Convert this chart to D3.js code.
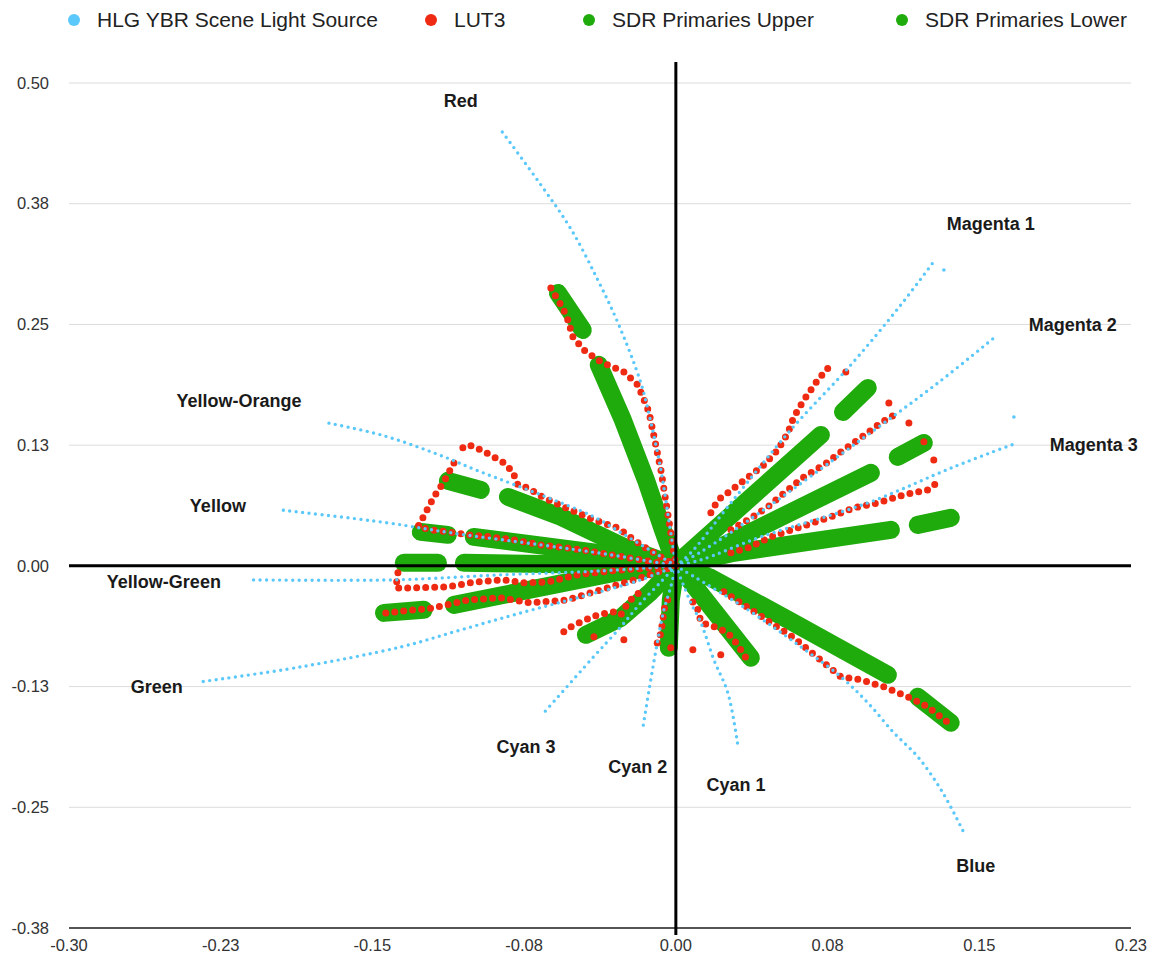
<!DOCTYPE html>
<html>
<head>
<meta charset="utf-8">
<script src="https://cdn.jsdelivr.net/npm/d3@7"></script>
<style>
  body { margin: 0; background: #fff; }
  svg text { font-family: "Liberation Sans", Arial, Helvetica, sans-serif; }
</style>
</head>
<body>
<svg id="chart" width="1151" height="954"></svg>
<script>
// legend / series names
const seriesNames = ["HLG YBR Scene Light Source", "LUT3", "SDR Primaries Upper", "SDR Primaries Lower"];
const seriesColors = ["#5ac8fa", "#ee2a12", "#1fab0b", "#1fab0b"];

// axis ticks
const xTicks = [-0.3, -0.225, -0.15, -0.075, 0, 0.075, 0.15, 0.225];
const xTickLabels = ["-0.30", "-0.23", "-0.15", "-0.08", "0.00", "0.08", "0.15", "0.23"];
const yTicks = [-0.375, -0.25, -0.125, 0, 0.125, 0.25, 0.375, 0.5];
const yTickLabels = ["-0.38", "-0.25", "-0.13", "0.00", "0.13", "0.25", "0.38", "0.50"];

// HLG YBR scene light source, one curve per hue (x = Cb, y = Cr)
const hlgRed = [[0,0],[-0.0035,0.0476],[-0.0074,0.0994],[-0.0124,0.1491],[-0.0173,0.1894],[-0.0282,0.2495],[-0.0385,0.2957],[-0.0519,0.3489],[-0.0667,0.3944],[-0.0865,0.4513]];
const hlgMagenta1 = [[0,0],[0.0074,0.0135],[0.0272,0.0652],[0.0568,0.1408],[0.0865,0.2081],[0.1112,0.2702],[0.1270,0.3137]];
const hlgMagenta2 = [[0,0],[0.0124,0.0145],[0.0420,0.0559],[0.0914,0.1304],[0.1295,0.1894],[0.1572,0.2360]];
const hlgMagenta3 = [[0,0],[0.0124,0.0062],[0.0420,0.0300],[0.0949,0.0652],[0.1374,0.1025],[0.1686,0.1273]];
const hlgYellowOrange = [[0,0],[-0.0237,0.0300],[-0.0405,0.0507],[-0.0667,0.0735],[-0.0964,0.0973],[-0.1196,0.1170],[-0.1458,0.1356],[-0.1720,0.1480]];
const hlgYellow = [[0,0],[-0.0321,0.0114],[-0.0667,0.0217],[-0.1112,0.0342],[-0.1424,0.0445],[-0.1957,0.0580]];
const hlgYellowGreen = [[0,0],[-0.0371,-0.0052],[-0.0865,-0.0093],[-0.1394,-0.0145],[-0.2116,-0.0145]];
const hlgGreen = [[0,0],[-0.0173,-0.0145],[-0.0470,-0.0321],[-0.0766,-0.0487],[-0.1063,-0.0663],[-0.1359,-0.0839],[-0.1854,-0.1046],[-0.2348,-0.1201]];
const hlgCyan3 = [[0,0],[-0.0074,-0.0166],[-0.0173,-0.0383],[-0.0272,-0.0631],[-0.0420,-0.0973],[-0.0657,-0.1532]];
const hlgCyan2 = [[0,0],[-0.0025,-0.0217],[-0.0059,-0.0455],[-0.0089,-0.0766],[-0.0124,-0.1180],[-0.0163,-0.1677]];
const hlgCyan1 = [[0,0],[0.0074,-0.0383],[0.0124,-0.0590],[0.0188,-0.0973],[0.0257,-0.1315],[0.0306,-0.1853]];
const hlgBlue = [[0,0],[0.0356,-0.0455],[0.0618,-0.0839],[0.0816,-0.1149],[0.0949,-0.1418],[0.1078,-0.1729],[0.1196,-0.1977],[0.1320,-0.2350],[0.1424,-0.2764]];
const hlgSingles = [[0.1325,0.3064],[0.1671,0.1542]];

// LUT3 output per hue
const lutRed = [[-0.0618,0.2878],[-0.0583,0.2754],[-0.0559,0.2671],[-0.0534,0.2547],[-0.0509,0.2371],[-0.0455,0.2236],[-0.0371,0.2112],[-0.0257,0.2008],[-0.0188,0.1874],[-0.0133,0.1594],[-0.0074,0.0994],[-0.0035,0.0476],[0,0]];
const lutMagenta1 = [[0.0173,0.0549],[0.0208,0.0683],[0.0257,0.0756],[0.0321,0.0859],[0.0386,0.0963],[0.0435,0.1046],[0.0504,0.1201],[0.0554,0.1377],[0.0583,0.1542],[0.0633,0.1718],[0.0702,0.1925],[0.0766,0.2081]];
const lutMagenta2 = [[0.0272,0.0373],[0.0356,0.0476],[0.0455,0.0611],[0.0554,0.0787],[0.0633,0.0921],[0.0732,0.1046],[0.0816,0.1180],[0.0914,0.1325],[0.1013,0.1480],[0.1097,0.1584]];
const lutMagenta3 = [[0.0272,0.0135],[0.0356,0.0186],[0.0470,0.0300],[0.0618,0.0404],[0.0751,0.0497],[0.0880,0.0600],[0.0999,0.0652],[0.1127,0.0735],[0.1246,0.0787],[0.1310,0.0890]];
const lutYellowOrange = [[-0.1053,0.1222],[-0.1023,0.1253],[-0.0964,0.1201],[-0.0900,0.1128],[-0.0850,0.1066],[-0.0806,0.0973],[-0.0781,0.0839],[-0.0732,0.0808],[-0.0652,0.0704],[-0.0554,0.0611],[-0.0405,0.0476],[-0.0287,0.0393],[-0.0173,0.0217],[0,0]];
const lutYellow = [[-0.1097,0.1066],[-0.1147,0.0869],[-0.1196,0.0714],[-0.1251,0.0497],[-0.1275,0.0404],[-0.1211,0.0373],[-0.1127,0.0352],[-0.1028,0.0321],[-0.0914,0.0300],[-0.0801,0.0269],[-0.0667,0.0217],[-0.0534,0.0186],[-0.0405,0.0145],[-0.0321,0.0114],[0,0]];
const lutYellowGreen = [[-0.1374,-0.0072],[-0.1384,-0.0228],[-0.1295,-0.0228],[-0.1127,-0.0218],[-0.0989,-0.0166],[-0.0850,-0.0145],[-0.0751,-0.0176],[-0.0633,-0.0166],[-0.0484,-0.0093],[-0.0321,-0.0052],[0,0]];
const lutGreen = [[-0.1434,-0.0487],[-0.1196,-0.0435],[-0.1028,-0.0352],[-0.0865,-0.0331],[-0.0717,-0.0383],[-0.0534,-0.0352],[-0.0371,-0.0248],[-0.0173,-0.0124],[0,0]];
const lutCyan3 = [[-0.0554,-0.0683],[-0.0519,-0.0631],[-0.0470,-0.0580],[-0.0386,-0.0507],[-0.0306,-0.0476],[-0.0272,-0.0507],[-0.0257,-0.0455],[-0.0237,-0.0383],[-0.0208,-0.0321],[-0.0183,-0.0280]];
const lutCyan2 = [[-0.0040,-0.0352],[-0.0059,-0.0455],[-0.0064,-0.0559],[-0.0074,-0.0694],[-0.0089,-0.0797],[-0.0114,-0.0818]];
const lutCyan1 = [[0.0084,-0.0373],[0.0109,-0.0455],[0.0124,-0.0580],[0.0158,-0.0611],[0.0208,-0.0642],[0.0257,-0.0694],[0.0287,-0.0766],[0.0321,-0.0870],[0.0346,-0.0952]];
const lutBlue = [[0.0237,-0.0269],[0.0336,-0.0404],[0.0470,-0.0590],[0.0583,-0.0745],[0.0702,-0.0952],[0.0816,-0.1149],[0.0914,-0.1180],[0.1028,-0.1253],[0.1147,-0.1356],[0.1246,-0.1460],[0.1359,-0.1646]];
const lutSingles = [[-0.0405,-0.0735],[-0.0257,-0.0766],[-0.0025,-0.0849],[0.0084,-0.0870],[0.0222,-0.0921],
                    [0.0840,0.2008],[0.1053,0.1687],[0.1152,0.1480],[0.1226,0.1284],[0.1275,0.1097]];

// SDR primaries upper: long runs out of the origin
const sdrUpper = [
  [[-0.0381,0.2081],[-0.0262,0.1511],[-0.0148,0.0890],[-0.0064,0.0373],[0,0]],
  [[-0.0830,0.0714],[-0.0568,0.0507],[-0.0257,0.0197],[0,0]],
  [[-0.0999,0.0300],[-0.0386,0.0135],[0,0]],
  [[-0.1048,0.0031],[0,0]],
  [[-0.1097,-0.0404],[-0.0306,-0.0072],[0,0]],
  [[-0.0445,-0.0714],[-0.0272,-0.0538],[-0.0124,-0.0269],[0,0]],
  [[-0.0035,-0.0849],[-0.0025,-0.0352],[0,0]],
  [[0.0371,-0.0952],[0.0040,-0.0072],[0,0]],
  [[0.1048,-0.1128],[0.0583,-0.0590],[0.0173,-0.0124],[0,0]],
  [[0.0717,0.1356],[0.0025,0.0062],[0,0]],
  [[0.0964,0.0963],[0.0222,0.0197],[0,0]],
  [[0.1063,0.0373],[0.0287,0.0135],[0,0]]
];

// SDR primaries lower: short runs further out
const sdrLower = [
  [[-0.0583,0.2826],[-0.0460,0.2443]],
  [[-0.1127,0.0880],[-0.0964,0.0787]],
  [[-0.1261,0.0352],[-0.1127,0.0321]],
  [[-0.1345,0.0031],[-0.1176,0.0031]],
  [[-0.1443,-0.0487],[-0.1246,-0.0455]],
  [[0.1196,-0.1356],[0.1359,-0.1625]],
  [[0.0826,0.1594],[0.0949,0.1843]],
  [[0.1097,0.1128],[0.1226,0.1273]],
  [[0.1196,0.0424],[0.1359,0.0497]]
];

// hue labels
const hueNames = ["Red", "Magenta 1", "Magenta 2", "Magenta 3", "Yellow-Orange", "Yellow", "Yellow-Green", "Green", "Cyan 3", "Cyan 2", "Cyan 1", "Blue"];
const hueLabelX = [-0.1063, 0.1557, 0.1962, 0.2066, -0.2160, -0.2264, -0.2531, -0.2566, -0.0741, -0.0188, 0.0297, 0.1483];
const hueLabelY = [0.4814, 0.3540, 0.2495, 0.1253, 0.1708, 0.0621, -0.0166, -0.1253, -0.1874, -0.2081, -0.2267, -0.3106];

const hlgCurves = [hlgRed, hlgMagenta1, hlgMagenta2, hlgMagenta3, hlgYellowOrange, hlgYellow, hlgYellowGreen, hlgGreen, hlgCyan3, hlgCyan2, hlgCyan1, hlgBlue];
const lutCurves = [lutRed, lutMagenta1, lutMagenta2, lutMagenta3, lutYellowOrange, lutYellow, lutYellowGreen, lutGreen, lutCyan3, lutCyan2, lutCyan1, lutBlue];

const svg = d3.select("#chart");

const x = d3.scaleLinear().domain([-0.3, 0.225]).range([69, 1131]);
const y = d3.scaleLinear().domain([-0.375, 0.5]).range([928, 83]);

const left = x.range()[0], right = x.range()[1];

// grid lines
svg.append("g")
  .selectAll("line")
  .data(yTicks.filter(d => d !== 0 && d !== -0.375))
  .join("line")
  .attr("x1", left).attr("x2", right)
  .attr("y1", d => y(d)).attr("y2", d => y(d))
  .attr("stroke", "#dcdcdc")
  .attr("stroke-width", 1);

// y labels
svg.append("g")
  .selectAll("text")
  .data(yTicks)
  .join("text")
  .attr("x", 49)
  .attr("y", d => y(d))
  .attr("dy", "0.35em")
  .attr("text-anchor", "end")
  .attr("font-size", 16.5)
  .attr("fill", "#333")
  .text((d, i) => yTickLabels[i]);

// x labels
svg.append("g")
  .selectAll("text")
  .data(xTicks)
  .join("text")
  .attr("x", d => x(d))
  .attr("y", 945)
  .attr("dy", "0.35em")
  .attr("text-anchor", "middle")
  .attr("font-size", 16.5)
  .attr("fill", "#333")
  .text((d, i) => xTickLabels[i]);

// bottom base line
svg.append("line")
  .attr("x1", left).attr("x2", right)
  .attr("y1", y(-0.375)).attr("y2", y(-0.375))
  .attr("stroke", "#555").attr("stroke-width", 2);

const lineLin = d3.line().x(d => x(d[0])).y(d => y(d[1]));
const lineSmooth = d3.line().x(d => x(d[0])).y(d => y(d[1])).curve(d3.curveCatmullRom.alpha(0.5));

const plot = svg.append("g");

// SDR primaries (drawn underneath)
plot.append("g")
  .selectAll("path")
  .data(sdrUpper)
  .join("path")
  .attr("d", lineLin)
  .attr("fill", "none")
  .attr("stroke", seriesColors[2])
  .attr("stroke-width", 18)
  .attr("stroke-linecap", "round")
  .attr("stroke-linejoin", "round");

plot.append("g")
  .selectAll("path")
  .data(sdrLower)
  .join("path")
  .attr("d", lineLin)
  .attr("fill", "none")
  .attr("stroke", seriesColors[3])
  .attr("stroke-width", 18)
  .attr("stroke-linecap", "round");

// LUT3
plot.append("g")
  .selectAll("path")
  .data(lutCurves)
  .join("path")
  .attr("d", lineLin)
  .attr("fill", "none")
  .attr("stroke", seriesColors[1])
  .attr("stroke-width", 7)
  .attr("stroke-linecap", "round")
  .attr("stroke-dasharray", "0 9");

plot.append("g")
  .selectAll("circle")
  .data(lutSingles)
  .join("circle")
  .attr("cx", d => x(d[0]))
  .attr("cy", d => y(d[1]))
  .attr("r", 3.5)
  .attr("fill", seriesColors[1]);

// HLG curves on top
plot.append("g")
  .selectAll("path")
  .data(hlgCurves)
  .join("path")
  .attr("d", lineSmooth)
  .attr("fill", "none")
  .attr("stroke", seriesColors[0])
  .attr("stroke-width", 3.4)
  .attr("stroke-linecap", "round")
  .attr("stroke-dasharray", "0 6.5");

plot.append("g")
  .selectAll("circle")
  .data(hlgSingles)
  .join("circle")
  .attr("cx", d => x(d[0]))
  .attr("cy", d => y(d[1]))
  .attr("r", 1.8)
  .attr("fill", seriesColors[0]);

// zero axes
svg.append("line")
  .attr("x1", left).attr("x2", right)
  .attr("y1", y(0)).attr("y2", y(0))
  .attr("stroke", "#000").attr("stroke-width", 3);

svg.append("line")
  .attr("x1", x(0)).attr("x2", x(0))
  .attr("y1", 62).attr("y2", 935)
  .attr("stroke", "#000").attr("stroke-width", 3);

// hue labels
svg.append("g")
  .selectAll("text")
  .data(hueNames)
  .join("text")
  .attr("x", (d, i) => x(hueLabelX[i]))
  .attr("y", (d, i) => y(hueLabelY[i]))
  .attr("dy", "0.35em")
  .attr("text-anchor", "middle")
  .attr("font-size", 18)
  .attr("font-weight", "bold")
  .attr("fill", "#1a1a1a")
  .text(d => d);

// legend
const legendX = [74, 431, 589, 902];
const legend = svg.append("g")
  .selectAll("g")
  .data(seriesNames)
  .join("g")
  .attr("transform", (d, i) => `translate(${legendX[i]},20)`);

legend.append("circle")
  .attr("r", 6)
  .attr("fill", (d, i) => seriesColors[i]);

legend.append("text")
  .attr("x", 23)
  .attr("dy", "0.35em")
  .attr("font-size", 21)
  .attr("fill", "#222")
  .text(d => d);
</script>
</body>
</html>
